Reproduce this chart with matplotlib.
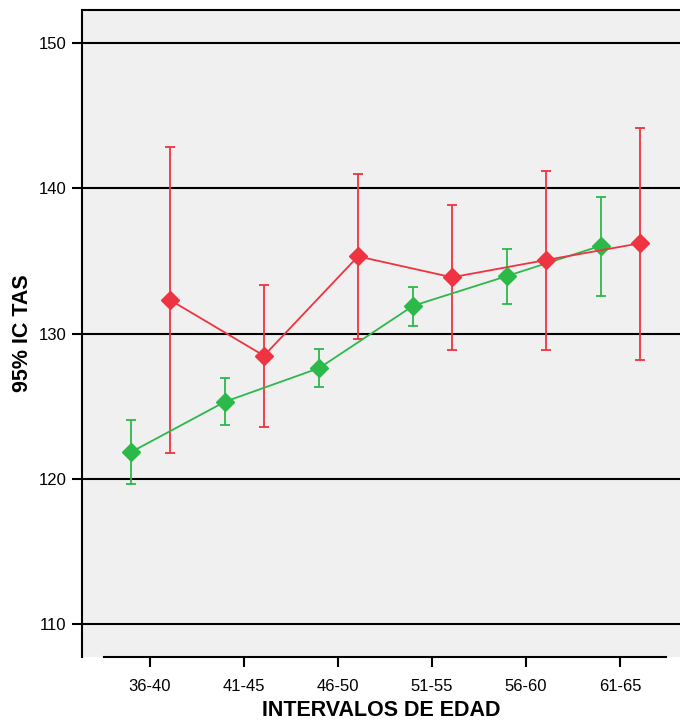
"mean TAS with 95% CI by age interval"
import numpy as np
import matplotlib
matplotlib.use("Agg")
from matplotlib import pyplot as plt

plt.rcParams['font.family'] = ['Liberation Sans', 'DejaVu Sans']

categories = ["36-40", "41-45", "46-50", "51-55", "56-60", "61-65"]

green_mean = [121.84, 125.31, 127.62, 131.91, 133.96, 136.05]
green_low = [119.64, 123.70, 126.34, 130.54, 132.05, 132.60]
green_high = [124.04, 126.96, 128.93, 133.22, 135.84, 139.40]

red_mean = [132.31, 128.47, 135.31, 133.87, 135.06, 136.21]
red_low = [121.80, 123.54, 129.62, 128.86, 128.89, 128.20]
red_high = [142.86, 133.36, 140.98, 138.87, 141.19, 144.15]

yticks = [110, 120, 130, 140, 150]

GREEN = "#2db84a"
RED = "#ef3340"

fig = plt.figure(figsize=(6.8, 7.22), dpi=100)
ax = fig.add_axes([82/680, 65/722, 1 - 82/680, 647/722])
ax.set_facecolor("#f0f0f0")

x = np.arange(len(categories))

for yv in yticks:
    ax.axhline(yv, color="black", lw=1.5, zorder=1)

def draw(offset, mean, low, high, color):
    mean = np.array(mean)
    err = [mean - np.array(low), np.array(high) - mean]
    ax.errorbar(x + offset, mean, yerr=err, color=color, lw=1.3,
                elinewidth=1.3, capsize=3.6, capthick=1.3,
                marker="D", ms=9, mec=color, mfc=color, zorder=3)

draw(-0.2, green_mean, green_low, green_high, GREEN)
draw(0.213, red_mean, red_low, red_high, RED)

ax.set_xlim(-0.723, 5.638)
ax.set_ylim(107.73, 152.27)
ax.set_xticks(x)
ax.set_xticklabels(categories)
ax.set_yticks(yticks)

ax.spines['right'].set_visible(False)
for s in ['left', 'top', 'bottom']:
    ax.spines[s].set_linewidth(1.5)
ax.spines['bottom'].set_bounds(-0.49, 5.49)

ax.tick_params(axis='both', length=7, width=1.5, labelsize=12, pad=4)
ax.tick_params(axis='x', pad=9)

ax.set_xlabel("INTERVALOS DE EDAD", fontsize=15.5, fontweight='bold', labelpad=4)
ax.set_ylabel("95% IC TAS", fontsize=15.5, fontweight='bold', labelpad=4)

fig.savefig("out.png", dpi=100)
